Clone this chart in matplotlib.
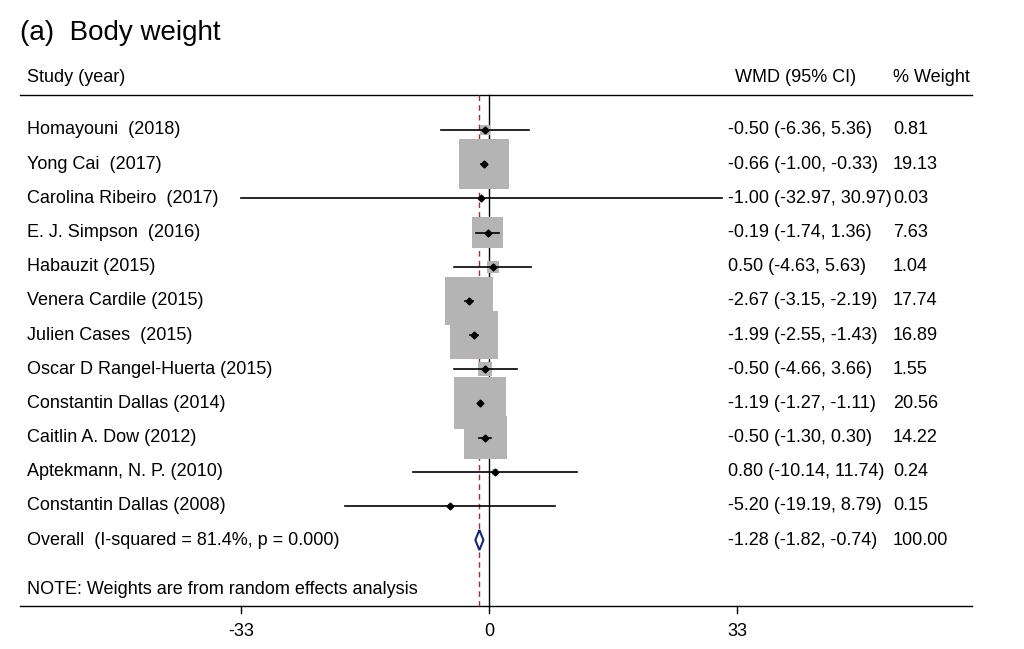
import matplotlib.pyplot as plt
from matplotlib.patches import Rectangle, Polygon
import numpy as np

plt.rcParams['font.family'] = ['Liberation Sans', 'DejaVu Sans']

studies = ['Homayouni  (2018)', 'Yong Cai  (2017)', 'Carolina Ribeiro  (2017)',
           'E. J. Simpson  (2016)', 'Habauzit (2015)', 'Venera Cardile (2015)',
           'Julien Cases  (2015)', 'Oscar D Rangel-Huerta (2015)',
           'Constantin Dallas (2014)', 'Caitlin A. Dow (2012)',
           'Aptekmann, N. P. (2010)', 'Constantin Dallas (2008)']
est = [-0.50, -0.66, -1.00, -0.19, 0.50, -2.67, -1.99, -0.50, -1.19, -0.50, 0.80, -5.20]
lo = [-6.36, -1.00, -32.97, -1.74, -4.63, -3.15, -2.55, -4.66, -1.27, -1.30, -10.14, -19.19]
hi = [5.36, -0.33, 30.97, 1.36, 5.63, -2.19, -1.43, 3.66, -1.11, 0.30, 11.74, 8.79]
weights = [0.81, 19.13, 0.03, 7.63, 1.04, 17.74, 16.89, 1.55, 20.56, 14.22, 0.24, 0.15]
overall = (-1.28, -1.82, -0.74)
overall_label = 'Overall  (I-squared = 81.4%, p = 0.000)'
ticks = [-33, 0, 33]

# pixel geometry
W, H = 1024, 649
x0_px, upx = 489, 33 / 248.0      # units per pixel
row0_px, row_px = 130, 34.17

def px(x):
    return (x - x0_px) * upx

def py(y):
    return (y - row0_px) / row_px

fig = plt.figure(figsize=(W / 100, H / 100), dpi=100)
ax = fig.add_axes([0, 0, 1, 1])
ax.set_xlim(px(0), px(W))
ax.set_ylim(py(H), py(0))
ax.axis('off')

fs = 13
ax.text(px(20), py(33), '(a)  Body weight', fontsize=20, va='center')
ax.text(px(27), py(78), 'Study (year)', fontsize=fs, va='center')
ax.text(px(735), py(78), 'WMD (95% CI)', fontsize=fs, va='center')
ax.text(px(893), py(78), '% Weight', fontsize=fs, va='center')
ax.plot([px(20), px(972)], [py(95), py(95)], color='black', lw=1)
ax.plot([px(20), px(972)], [py(606), py(606)], color='black', lw=1)

ax.plot([0, 0], [py(95), py(606)], color='black', lw=1)
ax.plot([overall[0]] * 2, [py(95), py(606)], color='#a0302d', lw=1, ls=(0, (4, 3)))

for i, (s, e, l, h, w) in enumerate(zip(studies, est, lo, hi, weights)):
    side = 52 * np.sqrt(w / max(weights))
    ax.add_patch(Rectangle((e - side / 2 * upx, i - side / 2 / row_px), side * upx, side / row_px,
                           color='#b4b4b4', lw=0, zorder=2))
    ax.plot([l, h], [i, i], color='black', lw=1.2, zorder=3)
    ax.plot(e, i, marker='D', ms=3.5, color='black', zorder=4)
    ax.text(px(27), i, s, fontsize=fs, va='center')
    ax.text(px(728), i, '%.2f (%.2f, %.2f)' % (e, l, h), fontsize=fs, va='center')
    ax.text(px(893), i, '%.2f' % w, fontsize=fs, va='center')

n = len(studies)
dh = 10 / row_px
ax.add_patch(Polygon([(overall[1], n), (overall[0], n - dh), (overall[2], n), (overall[0], n + dh)],
                     closed=True, facecolor='white', edgecolor='#1a237e', lw=1.5, zorder=4))
ax.text(px(27), n, overall_label, fontsize=fs, va='center')
ax.text(px(728), n, '%.2f (%.2f, %.2f)' % overall, fontsize=fs, va='center')
ax.text(px(893), n, '100.00', fontsize=fs, va='center')

ax.text(px(27), py(590), 'NOTE: Weights are from random effects analysis', fontsize=fs, va='center')

for t in ticks:
    ax.plot([t, t], [py(606), py(613)], color='black', lw=1)
    ax.text(t, py(632), str(t), fontsize=fs, ha='center', va='center')

fig.savefig('out.png', dpi=100)
